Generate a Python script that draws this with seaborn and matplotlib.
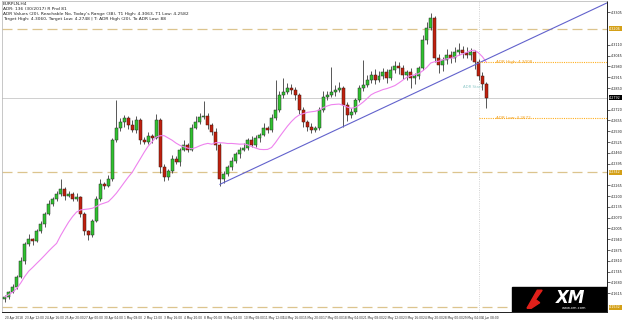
import numpy as np
import pandas as pd
import matplotlib
matplotlib.use("Agg")
import matplotlib.pyplot as plt
import matplotlib.transforms as mtransforms
from matplotlib.patches import Rectangle, Polygon
import seaborn as sns

# header lines of the indicator panel
info_lines = [
    "EURPLN,H4",
    "ADR: 136 (30/2017) R Pnd 81",
    "ADR Values (20), Reachable No, Today's Range (38), T1 High: 4.3063, T1 Low: 4.2582",
    "Target High: 4.3060, Target Low: 4.2748 | T: ADR High (20), To ADR Low: 88",
]

# H4 candles (close prices), open = previous close
first_open = 4.1580
closes = [
    4.1592, 4.1622, 4.1652, 4.1712, 4.1808, 4.1910, 4.1940, 4.1928, 4.1988, 4.2030,
    4.2090, 4.2150, 4.2180, 4.2210, 4.2240, 4.2198, 4.2210, 4.2180, 4.2192, 4.2090,
    4.1988, 4.1964, 4.2048, 4.2180, 4.2270, 4.2258, 4.2300, 4.2540, 4.2612, 4.2648,
    4.2672, 4.2630, 4.2600, 4.2660, 4.2540, 4.2528, 4.2564, 4.2552, 4.2660, 4.2372,
    4.2312, 4.2348, 4.2420, 4.2402, 4.2480, 4.2510, 4.2480, 4.2612, 4.2648, 4.2678,
    4.2684, 4.2630, 4.2588, 4.2510, 4.2300, 4.2330, 4.2372, 4.2408, 4.2450, 4.2480,
    4.2492, 4.2540, 4.2510, 4.2552, 4.2570, 4.2612, 4.2600, 4.2672, 4.2720, 4.2810,
    4.2828, 4.2852, 4.2840, 4.2810, 4.2720, 4.2648, 4.2618, 4.2600, 4.2612, 4.2720,
    4.2798, 4.2810, 4.2828, 4.2840, 4.2852, 4.2750, 4.2690, 4.2708, 4.2780, 4.2852,
    4.2870, 4.2900, 4.2930, 4.2900, 4.2924, 4.2948, 4.2912, 4.2960, 4.2984, 4.2972,
    4.2930, 4.2948, 4.2912, 4.2924, 4.2972, 4.3140, 4.3212, 4.3272, 4.3032, 4.2990,
    4.3020, 4.3050, 4.3032, 4.3068, 4.3080, 4.3062, 4.3050, 4.3068, 4.3008, 4.2924,
    4.2876, 4.2792,
]
# wick lengths in pips
upper_wick = [
    12, 6, 18, 12, 24, 12, 30, 6, 12, 18, 12, 24, 12, 18, 60, 12, 18, 12, 24, 6,
    12, 6, 12, 18, 30, 12, 24, 12, 168, 24, 18, 12, 30, 24, 12, 18, 24, 12, 36, 12,
    18, 12, 24, 18, 12, 30, 12, 24, 36, 24, 90, 18, 12, 24, 12, 18, 12, 24, 12, 18,
    30, 12, 24, 18, 12, 30, 12, 24, 180, 24, 84, 30, 24, 18, 12, 18, 12, 24, 12, 18,
    36, 24, 150, 30, 36, 12, 18, 24, 12, 18, 150, 30, 24, 36, 30, 24, 18, 24, 30, 24,
    18, 12, 24, 18, 12, 30, 36, 30, 12, 24, 18, 36, 24, 30, 42, 24, 36, 24, 12, 18,
    24, 12,
]
lower_wick = [
    18, 12, 6, 12, 6, 18, 12, 24, 6, 12, 18, 6, 12, 12, 12, 24, 6, 12, 12, 18,
    24, 30, 12, 6, 12, 18, 6, 12, 12, 18, 30, 24, 12, 18, 24, 12, 12, 30, 6, 36,
    24, 18, 12, 12, 24, 12, 18, 12, 6, 12, 12, 24, 18, 30, 42, 24, 12, 18, 12, 24,
    12, 18, 12, 12, 24, 6, 18, 12, 12, 12, 18, 12, 24, 30, 24, 30, 24, 18, 12, 12,
    12, 18, 12, 24, 12, 132, 36, 18, 12, 12, 18, 12, 18, 24, 12, 18, 30, 12, 18, 36,
    24, 30, 60, 36, 18, 12, 24, 12, 24, 48, 36, 24, 30, 24, 18, 30, 18, 30, 42, 24,
    36, 60,
]

date_labels = [
    "20 Apr 2018", "23 Apr 12:00", "24 Apr 16:00", "25 Apr 20:00", "27 Apr 00:00",
    "30 Apr 04:00", "1 May 08:00", "2 May 12:00", "3 May 16:00", "4 May 20:00",
    "8 May 00:00", "9 May 04:00", "10 May 08:00", "11 May 12:00", "14 May 16:00",
    "15 May 20:00", "17 May 00:00", "18 May 04:00", "21 May 08:00", "22 May 12:00",
    "23 May 16:00", "24 May 20:00", "28 May 00:00", "29 May 04:00", "4 Jun 08:00",
]
price_ticks = [
    4.3305, 4.3240, 4.3175, 4.3110, 4.3045, 4.2980, 4.2915, 4.2850, 4.2785, 4.2720,
    4.2655, 4.2590, 4.2525, 4.2460, 4.2395, 4.2330, 4.2265, 4.2200, 4.2135, 4.2070,
    4.2005, 4.1940, 4.1875, 4.1810, 4.1745, 4.1680, 4.1615, 4.1550,
]
level_lines = [4.3206, 4.2342, 4.1532]
adr_high = 4.3008
adr_low = 4.2672
adr_start = 119
trend_x = [54, 151.25]
trend_y = [4.2270, 4.3362]

df = pd.DataFrame({"close": closes})
df["idx"] = np.arange(len(df))
df["open"] = [first_open] + closes[:-1]
df["high"] = df[["open", "close"]].max(axis=1) + np.array(upper_wick) * 1e-4
df["low"] = df[["open", "close"]].min(axis=1) - np.array(lower_wick) * 1e-4
df["ma"] = df["close"].rolling(14, min_periods=1).mean()
last_close = df["close"].iloc[-1]

sns.set_style("white")
plt.rcParams["font.family"] = ["DejaVu Sans"]

fig = plt.figure(figsize=(6.25, 3.2), dpi=100)
ax = fig.add_axes([0.003, 0.025, 0.968, 0.972])
ax.set_xlim(-0.75, 151.25)
ax.set_ylim(4.1502, 4.3374)

# horizontal levels
for lv in level_lines:
    ax.axhline(lv, color="#dcc48e", lw=0.9, ls=(0, (8, 4)), zorder=1)
ax.axhline(last_close, color="#cfcfcf", lw=0.7, zorder=1)
ax.axvline(adr_start, color="#c4c4c4", lw=0.6, ls=":", zorder=1)

# candles
ax.vlines(df["idx"], df["low"], df["high"], color="#3c3c3c", lw=0.6, zorder=2)
up = df[df["close"] >= df["open"]]
dn = df[df["close"] < df["open"]]
ax.bar(up["idx"], np.maximum(up["close"] - up["open"], 0.0003), bottom=up["open"],
       width=0.75, color="#2fc22f", edgecolor="#2a2a2a", lw=0.35, zorder=3)
ax.bar(dn["idx"], np.maximum(dn["open"] - dn["close"], 0.0003), bottom=dn["close"],
       width=0.75, color="#c0200e", edgecolor="#3a1a12", lw=0.35, zorder=3)

# moving average and trend line
sns.lineplot(x=df["idx"], y=df["ma"], color="violet", lw=0.8, ax=ax, zorder=4)
sns.lineplot(x=trend_x, y=trend_y, color="#6262cc", lw=0.8, ax=ax, zorder=4)

# ADR levels
xmax = ax.get_xlim()[1]
ax.hlines([adr_high, adr_low], adr_start, xmax, color="#ffb020", lw=0.8, ls=(0, (1, 1)), zorder=4)
ax.text(adr_start + 4.5, adr_high, f"ADR High: {adr_high:.4f}", color="#f0a020",
        fontsize=3.0, va="center", zorder=5)
ax.text(adr_start + 4.5, adr_low, f"ADR Low: {adr_low:.4f}", color="#f0a020",
        fontsize=3.0, va="center", zorder=5)
ax.text(adr_start - 1.5, 4.2858, "ADR Start", color="#8fc9c9", fontsize=2.8,
        ha="center", va="center", zorder=5)

# info text
ax.text(0.002, 0.997, "\n".join(info_lines), transform=ax.transAxes, fontsize=3.2,
        va="top", ha="left", linespacing=1.35, color="#222222")

# axes styling; plain tick labels are left out where a highlighted label sits
marked = level_lines + [last_close]
shown_ticks = [p for p in price_ticks if min(abs(p - m) for m in marked) > 0.0035]
ax.yaxis.tick_right()
ax.set_yticks(shown_ticks)
ax.set_yticklabels([f"{p:.4f}" for p in shown_ticks], fontsize=2.4)
ax.set_xticks(np.arange(0, 5 * len(date_labels), 5))
ax.set_xticklabels(date_labels, fontsize=2.05, ha="left")
ax.tick_params(axis="both", length=2, width=0.5, pad=0.8, colors="#222222")
ax.set_xlabel("")
ax.set_ylabel("")
for side in ["right", "bottom"]:
    ax.spines[side].set_color("#202020")
    ax.spines[side].set_linewidth(0.7)
for side in ["left", "top"]:
    ax.spines[side].set_color("#b0b0b0")
    ax.spines[side].set_linewidth(0.5)

# highlighted price labels on the right
blend = mtransforms.blended_transform_factory(ax.transAxes, ax.transData)
for lv in level_lines:
    ax.text(1.004, lv, f"{lv:.4f}", transform=blend, fontsize=2.4, color="white",
            va="center", ha="left", clip_on=False,
            bbox=dict(boxstyle="square,pad=0.15", fc="#d4a017", ec="none"))
ax.text(1.004, last_close, f"{last_close:.4f}", transform=blend,
        fontsize=2.4, color="white", va="center", ha="left", clip_on=False,
        bbox=dict(boxstyle="square,pad=0.15", fc="black", ec="none"))

# XM badge
ax.add_patch(Rectangle((0.844, 0.0), 0.156, 0.08, transform=ax.transAxes,
                       color="black", zorder=6))
ax.add_patch(Polygon([(0.868, 0.012), (0.885, 0.07), (0.893, 0.07), (0.882, 0.04),
                      (0.889, 0.03), (0.875, 0.012)], closed=True,
                     transform=ax.transAxes, color="#e0201a", zorder=7))
ax.text(0.94, 0.046, "XM", transform=ax.transAxes, color="white", fontsize=12,
        fontweight="bold", fontstyle="italic", ha="center", va="center", zorder=7)
ax.text(0.945, 0.012, "www.xm.com", transform=ax.transAxes, color="white",
        fontsize=2.6, ha="center", va="center", zorder=7)

fig.savefig("out.png", dpi=100, facecolor="white")
